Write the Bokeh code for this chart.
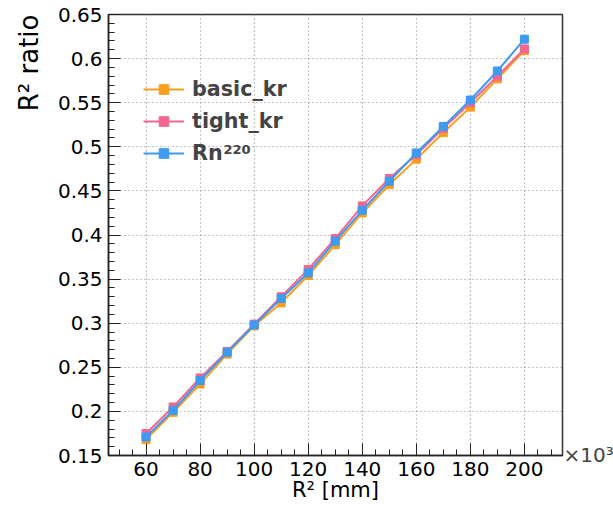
import math
from bokeh.plotting import figure
from bokeh.models import (SingleIntervalTicker, CustomJSTickFormatter, Legend, LegendItem,
                          Label, Range1d, Title)
from bokeh.embed import file_html
from bokeh.resources import INLINE

# ---- data ----
r2_k = [60, 70, 80, 90, 100, 110, 120, 130, 140, 150, 160, 170, 180, 190, 200]
basic_kr = [0.168, 0.199, 0.231, 0.265, 0.297, 0.323, 0.354, 0.389, 0.425, 0.457,
            0.486, 0.516, 0.545, 0.577, 0.609]
tight_kr = [0.175, 0.205, 0.238, 0.268, 0.299, 0.330, 0.361, 0.396, 0.433, 0.464,
            0.491, 0.521, 0.550, 0.580, 0.611]
rn220 = [0.171, 0.201, 0.235, 0.267, 0.298, 0.328, 0.357, 0.393, 0.428, 0.461,
         0.493, 0.523, 0.553, 0.586, 0.622]
series_names = ["basic_kr", "tight_kr", "Rn"]
series_colors = ["#fb9d1e", "#f2678f", "#3d9bf2"]

FONT = "DejaVu Sans"

p = figure(width=613, height=509, output_backend="svg", toolbar_location=None,
           x_range=Range1d(46.1, 214.1), y_range=Range1d(0.15, 0.65),
           min_border_left=106, min_border_right=51, min_border_top=14, min_border_bottom=54)

p.background_fill_color = "white"
p.border_fill_color = "white"
p.outline_line_color = "#333333"
p.outline_line_width = 1.5

# axes
xa = p.xaxis[0]
ya = p.yaxis[0]
xa.ticker = SingleIntervalTicker(interval=20, num_minor_ticks=4)
ya.ticker = SingleIntervalTicker(interval=0.05, num_minor_ticks=5)
ya.formatter = CustomJSTickFormatter(code="return parseFloat(tick.toFixed(2)).toString();")
for ax in (xa, ya):
    ax.major_tick_in = 12
    ax.major_tick_out = 0
    ax.minor_tick_in = 6
    ax.minor_tick_out = 0
    ax.axis_line_color = "#222222"
    ax.axis_line_width = 1.5
    ax.major_tick_line_color = "#222222"
    ax.minor_tick_line_color = "#222222"
    ax.major_label_text_font = FONT
    ax.major_label_text_font_size = "20px"
    ax.major_label_text_color = "black"
xa.major_label_standoff = 6
ya.major_label_standoff = 6

xa.axis_label = "R² [mm]"
xa.axis_label_text_font = FONT
xa.axis_label_text_font_size = "21px"
xa.axis_label_text_font_style = "normal"
xa.axis_label_text_color = "black"
xa.axis_label_standoff = -1

for g in (p.xgrid[0], p.ygrid[0]):
    g.grid_line_color = "#8a8a8a"
    g.grid_line_dash = "1 3"
    g.grid_line_width = 1.2

# series
renderers = []
for vals, name, col in zip([basic_kr, tight_kr, rn220], series_names, series_colors):
    l = p.line(r2_k, vals, line_color=col, line_width=2)
    s = p.scatter(r2_k, vals, marker="square", size=8, fill_color=col, line_color=col)
    renderers.append((name, [l, s]))

legend = Legend(items=[LegendItem(label=n, renderers=r) for n, r in renderers],
                location=(35, 290), orientation="vertical")
legend.background_fill_alpha = 0
legend.border_line_alpha = 0
legend.label_text_font = FONT
legend.label_text_font_style = "bold"
legend.label_text_font_size = "20.7px"
legend.glyph_width = 41
legend.glyph_height = 24
legend.label_height = 24
legend.label_standoff = 8
legend.spacing = 8
legend.padding = 0
legend.margin = 0
p.add_layout(legend)

# superscript for Rn
p.add_layout(Label(x=115, y=306, x_units="screen", y_units="screen", text="220",
                   text_font=FONT, text_font_style="bold", text_font_size="13px",
                   text_baseline="alphabetic"))

# y title (right-aligned at top, like ROOT)
ytitle = Title(text="R² ratio", align="right", text_font=FONT, text_font_size="26px",
               text_font_style="normal", text_color="black", standoff=22, offset=0)
p.add_layout(ytitle, "left")

# exponent marker
p.add_layout(Label(x=1, y=1, x_units="screen", y_units="screen", text="×10³",
                   text_font=FONT, text_font_size="20px", text_align="left",
                   text_baseline="alphabetic"), "right")

open("out.html", "w").write(file_html(p, INLINE))
